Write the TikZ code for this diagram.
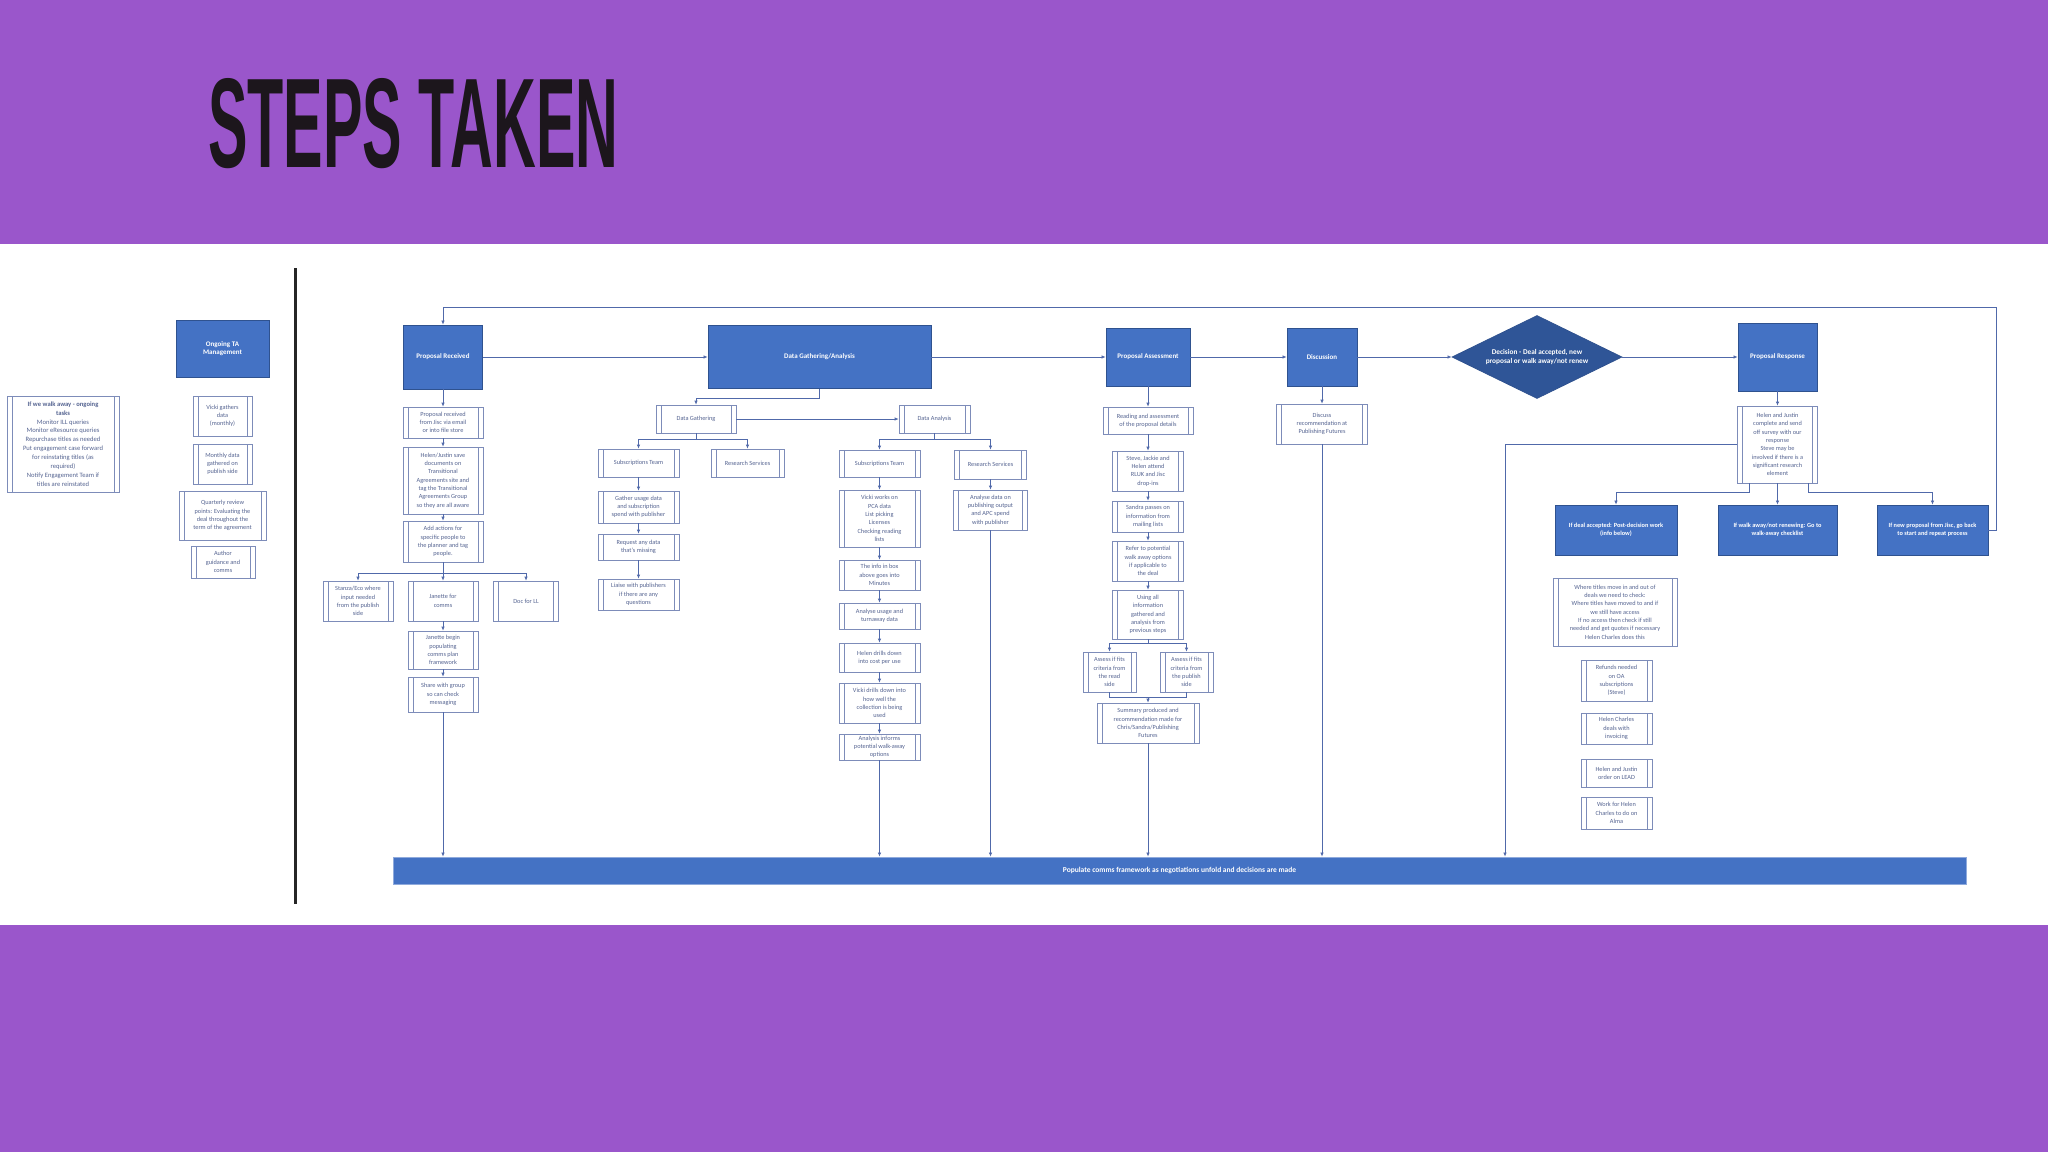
\documentclass[tikz,border=0pt]{standalone}
\usepackage{graphicx}
\usepackage{fontspec}
\setmainfont{Carlito}
\newfontfamily\titlefont{Liberation Sans}
\usetikzlibrary{arrows.meta,shapes.geometric}
\definecolor{purplebg}{RGB}{154,86,203}
\definecolor{blueF}{RGB}{68,114,196}
\definecolor{blueD}{RGB}{47,82,143}
\definecolor{diaF}{RGB}{47,85,151}
\definecolor{boxline}{RGB}{125,140,185}
\definecolor{boxtext}{RGB}{85,100,145}
\definecolor{lineC}{RGB}{80,105,170}
\definecolor{titleC}{RGB}{28,22,28}
\begin{document}
\begin{tikzpicture}[x=1pt,y=-1pt,
  sz/.style 2 args={minimum width=#1, minimum height=#2},
  bbox/.style={draw=blueD, fill=blueF, line width=0.8pt, text=white,
    font=\bfseries\fontsize{7}{8.5}\selectfont, align=center, inner sep=1pt},
  sbox/.style={draw=boxline, fill=white, line width=0.7pt, text=boxtext,
    font=\fontsize{6.3}{8.3}\selectfont, align=center, inner sep=1pt,
    path picture={\draw[boxline, line width=0.6pt]
      ([xshift=5pt]path picture bounding box.north west) -- ([xshift=5pt]path picture bounding box.south west)
      ([xshift=-5pt]path picture bounding box.north east) -- ([xshift=-5pt]path picture bounding box.south east);}},
  conn/.style={draw=lineC, line width=0.7pt, -{Latex[length=4pt,width=3.5pt]}},
  plain/.style={draw=lineC, line width=0.7pt}]
\useasboundingbox (0,0) rectangle (2048,1152);
\fill[purplebg] (0,0) rectangle (2048,1152);
\fill[white] (0,244) rectangle (2048,925);
\node[anchor=north west, inner sep=0, text=titleC] (title) at (208,78)
  {\resizebox{410pt}{89pt}{\titlefont\bfseries STEPS TAKEN}};
\draw[line width=3pt, black!85] (295,268) -- (295,904);

% ---------- Left: ongoing ----------
\node[sbox, sz={112}{96}, font=\fontsize{6.6}{8.9}\selectfont] (walk) at (63,444)
  {\textbf{If we walk away - ongoing}\\\textbf{tasks}\\Monitor ILL queries\\Monitor eResource queries\\Repurchase titles as needed\\Put engagement case forward\\for reinstating titles (as\\required)\\Notify Engagement Team if\\titles are reinstated};
\node[bbox, sz={93}{57}] (ta) at (222.5,348.5) {Ongoing TA\\Management};
\node[sbox, sz={59}{40}] (ta1) at (222.5,416) {Vicki gathers\\data\\(monthly)};
\node[sbox, sz={59}{40}] (ta2) at (222.5,464) {Monthly data\\gathered on\\publish side};
\node[sbox, sz={87}{49}] (ta3) at (222.5,515.5) {Quarterly review\\points: Evaluating the\\deal throughout the\\term of the agreement};
\node[sbox, sz={64}{32}] (ta4) at (223,562) {Author\\guidance and\\comms};

% ---------- Proposal Received ----------
\node[bbox, sz={79}{64}] (pr) at (443,357) {Proposal Received};
\node[sbox, sz={80}{31}] (pr1) at (443,422.5) {Proposal received\\from Jisc via email\\or into file store};
\node[sbox, sz={80}{67}] (pr2) at (443,480.5) {Helen/Justin save\\documents on\\Transitional\\Agreements site and\\tag the Transitional\\Agreements Group\\so they are all aware};
\node[sbox, sz={80}{41}] (pr3) at (443,541.5) {Add actions for\\specific people to\\the planner and tag\\people.};
\node[sbox, sz={70}{40}] (pr4a) at (358,601) {Stanza/Eco where\\input needed\\from the publish\\side};
\node[sbox, sz={70}{40}] (pr4b) at (443,601) {Janette for\\comms};
\node[sbox, sz={65}{40}] (pr4c) at (526,601) {Doc for LL};
\node[sbox, sz={70}{38}] (pr5) at (443,650) {Janette begin\\populating\\comms plan\\framework};
\node[sbox, sz={70}{35}] (pr6) at (443,694.5) {Share with group\\so can check\\messaging};

% ---------- Data Gathering / Analysis ----------
\node[bbox, sz={223}{63}] (dga) at (819.5,357) {Data Gathering/Analysis};
\node[sbox, sz={80}{28}] (dg) at (696,419) {Data Gathering};
\node[sbox, sz={71}{28}] (da) at (934.5,419) {Data Analysis};
\node[sbox, sz={81}{28}] (dgs) at (638.5,463) {Subscriptions Team};
\node[sbox, sz={73}{28}] (dgr) at (747.5,463) {Research Services};
\node[sbox, sz={81}{32}] (dgs1) at (638.5,507) {Gather usage data\\and subscription\\spend with publisher};
\node[sbox, sz={81}{26}] (dgs2) at (638.5,547) {Request any data\\that's missing};
\node[sbox, sz={81}{31}] (dgs3) at (638.5,594.5) {Liaise with publishers\\if there are any\\questions};
\node[sbox, sz={81}{27}] (das) at (879.5,463.5) {Subscriptions Team};
\node[sbox, sz={72}{29}] (dar) at (990.5,464.5) {Research Services};
\node[sbox, sz={74}{40}] (dar1) at (990.5,510) {Analyse data on\\publishing output\\and APC spend\\with publisher};
\node[sbox, sz={81}{57}] (das1) at (879.5,518.5) {Vicki works on\\PCA data\\List picking\\Licenses\\Checking reading\\lists};
\node[sbox, sz={81}{30}] (das2) at (879.5,575) {The info in box\\above goes into\\Minutes};
\node[sbox, sz={81}{26}] (das3) at (879.5,616) {Analyse usage and\\turnaway data};
\node[sbox, sz={81}{29}] (das4) at (879.5,657.5) {Helen drills down\\into cost per use};
\node[sbox, sz={81}{40}] (das5) at (879.5,703) {Vicki drills down into\\how well the\\collection is being\\used};
\node[sbox, sz={81}{26}] (das6) at (879.5,747) {Analysis informs\\potential walk-away\\options};

% ---------- Proposal Assessment ----------
\node[bbox, sz={84}{58}] (pa) at (1148,357) {Proposal Assessment};
\node[sbox, sz={90}{27}] (pa1) at (1148,420.5) {Reading and assessment\\of the proposal details};
\node[sbox, sz={71}{40}] (pa2) at (1148,471) {Steve, Jackie and\\Helen attend\\RLUK and Jisc\\drop-ins};
\node[sbox, sz={71}{31}] (pa3) at (1148,516.5) {Sandra passes on\\information from\\mailing lists};
\node[sbox, sz={71}{40}] (pa4) at (1148,561) {Refer to potential\\walk away options\\if applicable to\\the deal};
\node[sbox, sz={71}{49}] (pa5) at (1148,614.5) {Using all\\information\\gathered and\\analysis from\\previous steps};
\node[sbox, sz={53}{40}] (pa6a) at (1109.5,672) {Assess if fits\\criteria from\\the read\\side};
\node[sbox, sz={53}{40}] (pa6b) at (1186.5,672) {Assess if fits\\criteria from\\the publish\\side};
\node[sbox, sz={102}{40}] (pa7) at (1148,723) {Summary produced and\\recommendation made for\\Chris/Sandra/Publishing\\Futures};
\coordinate (pam) at (1148,697);

% ---------- Discussion / Decision ----------
\node[bbox, sz={70}{58}] (disc) at (1322,357) {Discussion};
\node[sbox, sz={91}{40}] (disc1) at (1322,424) {Discuss\\recommendation at\\Publishing Futures};
\node[diamond, shape aspect=2, draw=blueD, fill=diaF, line width=0.8pt, text=white,
  font=\bfseries\fontsize{7.3}{8.8}\selectfont, align=center, inner sep=0pt,
  minimum width=170, minimum height=83] (dec) at (1537,357)
  {Decision - Deal accepted, new\\proposal or walk away/not renew};

% ---------- Proposal Response ----------
\node[bbox, sz={79}{68}] (resp) at (1777.5,357) {Proposal Response};
\node[sbox, sz={80}{77}] (resp1) at (1777.5,444.5) {Helen and Justin\\complete and send\\off survey with our\\response\\Steve may be\\involved if there is a\\significant research\\element};
\node[bbox, sz={122}{50}, font=\bfseries\fontsize{6.3}{8}\selectfont] (opt1) at (1616,530) {If deal accepted: Post-decision work\\(info below)};
\node[bbox, sz={119}{50}, font=\bfseries\fontsize{6.3}{8}\selectfont] (opt2) at (1777.5,530) {If walk away/not renewing: Go to\\walk-away checklist};
\node[bbox, sz={111}{50}, font=\bfseries\fontsize{6.3}{8}\selectfont] (opt3) at (1932.5,530) {If new proposal from Jisc, go back\\to start and repeat process};
\node[sbox, sz={124}{68}] (post1) at (1615,612) {Where titles move in and out of\\deals we need to check:\\Where titles have moved to and if\\we still have access\\If no access then check if still\\needed and get quotes if necessary\\Helen Charles does this};
\node[sbox, sz={71}{41}] (post2) at (1616.5,680.5) {Refunds needed\\on OA\\subscriptions\\(Steve)};
\node[sbox, sz={71}{31}] (post3) at (1616.5,728.5) {Helen Charles\\deals with\\invoicing};
\node[sbox, sz={71}{28}] (post4) at (1616.5,773) {Helen and Justin\\order on LEAD};
\node[sbox, sz={71}{32}] (post5) at (1616.5,813) {Work for Helen\\Charles to do on\\Alma};

% ---------- Bottom bar ----------
\node[bbox, sz={1573}{27}, draw=blueF!60, font=\bfseries\fontsize{7.5}{9}\selectfont] (bar) at (1179.5,870.5)
  {Populate comms framework as negotiations unfold and decisions are made};

\coordinate (loopR) at (1996,307);
\coordinate (respdrop) at (1505,444.5);

% ---------- Connectors ----------
\draw[conn] (pr.east) -- (dga.west);
\draw[conn] (dga.east) -- (pa.west);
\draw[conn] (pa.east) -- (disc.west);
\draw[conn] (disc.east) -- (dec.west);
\draw[conn] (dec.east) -- (resp.west);
\draw[conn] (opt3.east) -| (loopR) -| (pr.north);

\draw[conn] (pr.south) -- (pr1.north);
\draw[conn] (pr1.south) -- (pr2.north);
\draw[conn] (pr2.south) -- (pr3.north);
\draw[conn] (pr3.south) -- ++(0,11) -| (pr4a.north);
\draw[conn] (pr3.south) -- (pr4b.north);
\draw[conn] (pr3.south) -- ++(0,11) -| (pr4c.north);
\draw[conn] (pr4b.south) -- (pr5.north);
\draw[conn] (pr5.south) -- (pr6.north);
\draw[conn] (pr6.south) -- (pr6.south |- bar.north);

\draw[conn] (dga.south) -- ++(0,9) -| (dg.north);
\draw[conn] (dg.east) -- (da.west);
\draw[conn] (dg.south) -- ++(0,6) -| (dgs.north);
\draw[conn] (dg.south) -- ++(0,6) -| (dgr.north);
\draw[conn] (dgs.south) -- (dgs1.north);
\draw[conn] (dgs1.south) -- (dgs2.north);
\draw[conn] (dgs2.south) -- (dgs3.north);
\draw[conn] (da.south) -- ++(0,6) -| (das.north);
\draw[conn] (da.south) -- ++(0,6) -| (dar.north);
\draw[conn] (dar.south) -- (dar1.north);
\draw[conn] (dar1.south) -- (dar1.south |- bar.north);
\draw[conn] (das.south) -- (das1.north);
\draw[conn] (das1.south) -- (das2.north);
\draw[conn] (das2.south) -- (das3.north);
\draw[conn] (das3.south) -- (das4.north);
\draw[conn] (das4.south) -- (das5.north);
\draw[conn] (das5.south) -- (das6.north);
\draw[conn] (das6.south) -- (das6.south |- bar.north);

\draw[conn] (pa.south) -- (pa1.north);
\draw[conn] (pa1.south) -- (pa2.north);
\draw[conn] (pa2.south) -- (pa3.north);
\draw[conn] (pa3.south) -- (pa4.north);
\draw[conn] (pa4.south) -- (pa5.north);
\draw[conn] (pa5.south) -- ++(0,4) -| (pa6a.north);
\draw[conn] (pa5.south) -- ++(0,4) -| (pa6b.north);
\draw[plain] (pa6a.south) |- (pam);
\draw[plain] (pa6b.south) |- (pam);
\draw[conn] (pam) -- (pa7.north);
\draw[conn] (pa7.south) -- (pa7.south |- bar.north);

\draw[conn] (disc.south) -- (disc1.north);
\draw[conn] (disc1.south) -- (disc1.south |- bar.north);

\draw[conn] (resp.south) -- (resp1.north);
\draw[conn] (resp1.west) -| (respdrop |- bar.north);
\draw[conn] ([xshift=-28pt]resp1.south) -- ++(0,9) -| (opt1.north);
\draw[conn] (resp1.south) -- (opt2.north);
\draw[conn] ([xshift=31pt]resp1.south) -- ++(0,9) -| (opt3.north);
\end{tikzpicture}
\end{document}
